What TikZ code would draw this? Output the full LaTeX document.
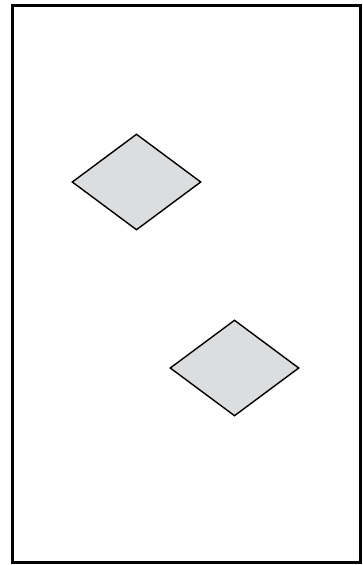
\documentclass[tikz,border=0pt]{standalone}
\usepackage{tikz}
\usetikzlibrary{positioning, shapes.geometric}
\definecolor{tilegray}{RGB}{220,221,223}
\tikzset{
  frame/.style = {draw, line width=3pt},
  tile/.style  = {draw, diamond, fill=tilegray, line width=1.4pt,
                  minimum width=129pt, minimum height=96pt, inner sep=0pt},
}

\begin{document}
\begin{tikzpicture}[x=1pt, y=-1pt]
    \useasboundingbox (0,0) rectangle (363,565);
    \draw[frame] (12.5,5) rectangle (360,562);
    \node[tile] (upper) at (136.5,182) {};
    \node[tile] (lower) at (234.5,368) {};
  \end{tikzpicture}
\end{document}
